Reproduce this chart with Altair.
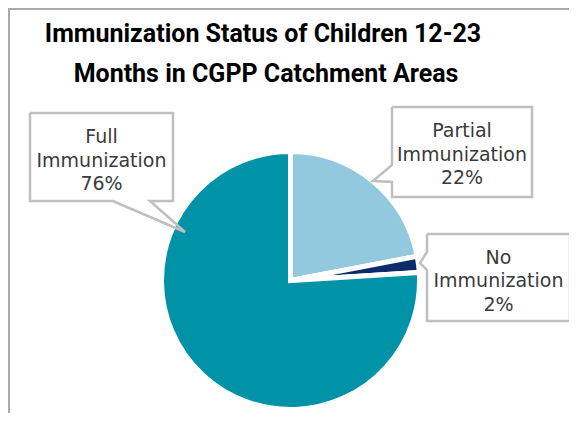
import altair as alt
import pandas as pd

# ---- data ----
categories = ["Partial Immunization", "No Immunization", "Full Immunization"]
values = [22, 2, 76]
colors = ["#92c9de", "#0b2b69", "#0092a7"]
title_lines = ["Immunization Status of Children 12-23", "Months in CGPP Catchment Areas"]

# ---- layout (page pixel coords; chart origin is at the 8px page margin) ----
M = 8
W, H = 577 - 2 * M, 421 - 2 * M
CX, CY, R = 290.5 - M, 280.5 - M, 129

callout_shapes = {
    "Full Immunization": [(30, 113), (173, 113), (173, 201), (150, 201), (185, 232),
                          (113, 201), (30, 201), (30, 113)],
    "Partial Immunization": [(392, 107), (532, 107), (532, 197), (392, 197), (392, 182),
                             (373, 181), (392, 165), (392, 107)],
    "No Immunization": [(427, 234), (570, 234), (570, 321), (427, 321), (427, 270),
                        (420, 263), (427, 252), (427, 234)],
}
label_pos = {
    "Full Immunization": (101.5, 143),
    "Partial Immunization": (462, 137),
    "No Immunization": (498.5, 263.5),
}

pie_df = pd.DataFrame({"category": categories, "value": values, "order": list(range(len(categories)))})

pie = alt.Chart(pie_df).mark_arc(
    radius=R, stroke="white", strokeWidth=5, strokeJoin="miter"
).encode(
    theta=alt.Theta("value:Q", stack=True),
    color=alt.Color("category:N", scale=alt.Scale(domain=categories, range=colors), legend=None),
    order=alt.Order("order:Q"),
    x=alt.value(CX),
    y=alt.value(CY),
)

rows = []
for cat, pts in callout_shapes.items():
    for i, (px, py) in enumerate(pts):
        rows.append({"cat": cat, "i": i, "x": px - M, "y": py - M})
shape_df = pd.DataFrame(rows)

boxes = alt.Chart(shape_df).mark_line(
    stroke="#bfbfbf", strokeWidth=2.5, strokeJoin="miter"
).encode(
    x=alt.X("x:Q", scale=None, axis=None),
    y=alt.Y("y:Q", scale=None, axis=None),
    detail="cat:N",
    order="i:Q",
)

lab_rows = []
for cat, v in zip(categories, values):
    lx, ly = label_pos[cat]
    lab_rows.append({"label": cat.replace(" ", "\n") + f"\n{v}%", "x": lx - M, "y": ly - M})
lab_df = pd.DataFrame(lab_rows)

labels = alt.Chart(lab_df).mark_text(
    font="DejaVu Sans", fontSize=19, color="#3a3a3a", align="center",
    baseline="alphabetic", lineBreak="\n", lineHeight=23.5
).encode(
    x=alt.X("x:Q", scale=None, axis=None),
    y=alt.Y("y:Q", scale=None, axis=None),
    text="label:N",
)

title_df = pd.DataFrame({"t": title_lines, "x": [263 - M, 266 - M], "y": [42 - M, 82 - M]})
title = alt.Chart(title_df).mark_text(
    font="Roboto", fontWeight="bold", fontSize=25, color="#000000",
    align="center", baseline="alphabetic"
).encode(
    x=alt.X("x:Q", scale=None, axis=None),
    y=alt.Y("y:Q", scale=None, axis=None),
    text="t:N",
)

frame_left = alt.Chart(pie_df).mark_rule(color="#aca8a4", strokeWidth=2).encode(
    x=alt.value(1), y=alt.value(0), y2=alt.value(H)
)
frame_top = alt.Chart(pie_df).mark_rule(color="#aca8a4", strokeWidth=2).encode(
    x=alt.value(0), x2=alt.value(W), y=alt.value(1)
)

chart = alt.layer(frame_left, frame_top, pie, boxes, labels, title).properties(
    width=W, height=H, autosize=alt.AutoSizeParams(type="none"), padding=0
).configure_view(stroke=None).configure(background="white")

chart.save("out.html", embed_options={"renderer": "svg", "actions": False})
